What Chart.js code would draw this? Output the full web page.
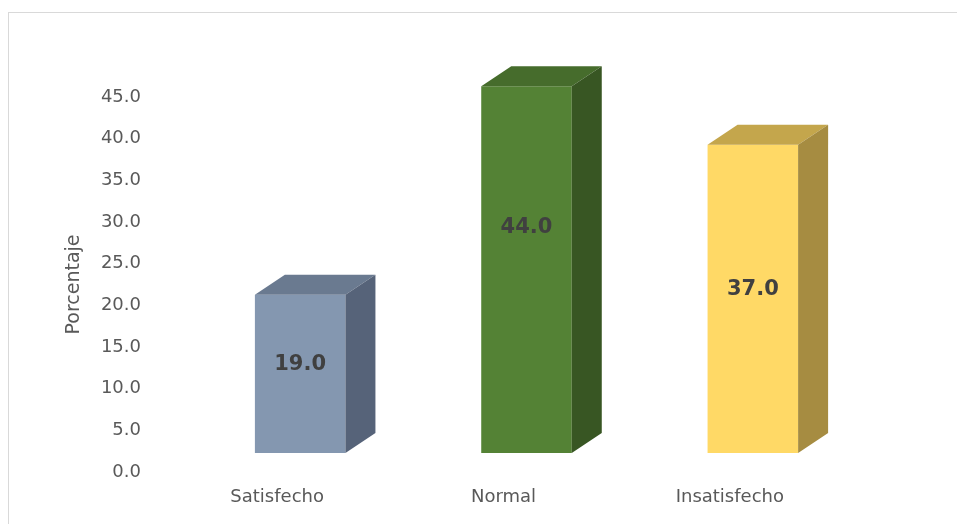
<!DOCTYPE html>
<html lang="es">
<head>
<meta charset="utf-8">
<title>Porcentaje por nivel de satisfacción</title>
<script src="https://cdn.jsdelivr.net/npm/chart.js@4.4.1/dist/chart.umd.min.js"></script>
<style>
  html, body { margin: 0; padding: 0; background: #fff; }
  .wrap { position: relative; width: 957px; height: 524px; overflow: hidden; }
  .frame { position: absolute; left: 8px; top: 12px; width: 1000px; height: 600px; border: 1px solid #d9d9d9; box-sizing: border-box; }
  canvas { position: absolute; left: 0; top: 0; }
</style>
</head>
<body>
<div class="wrap">
  <div class="frame"></div>
  <canvas id="chart" width="957" height="524"></canvas>
</div>
<script>
const categories = ['Satisfecho', 'Normal', 'Insatisfecho'];
const percentages = [19.0, 44.0, 37.0];

const frontColors = ['#8497b0', '#548235', '#ffd966'];
const topColors = ['#6a7a90', '#466c2c', '#c4a64c'];
const sideColors = ['#566379', '#385623', '#a68c41'];
// where each value label sits down the front face (0 = top edge, 1 = floor)
const labelDepth = [0.44, 0.385, 0.47];

const axisMin = 0;
const axisMax = 45;
const axisStep = 5;
// the bar floor sits a bit above the axis zero (3D plot area)
const floorLift = 2.28;
const depthX = 30;
const depthY = 20;

const FONT = "'DejaVu Sans', sans-serif";

// draws the top and side faces of each bar, then the value labels
const boxFaces = {
    id: 'boxFaces',
    afterDatasetsDraw(chart) {
        const ctx = chart.ctx;
        const meta = chart.getDatasetMeta(0);
        meta.data.forEach((bar, i) => {
            const { x, y, base, width } = bar.getProps(['x', 'y', 'base', 'width'], true);
            const left = x - width / 2;
            const right = x + width / 2;

            ctx.save();
            // top face
            ctx.beginPath();
            ctx.moveTo(left, y);
            ctx.lineTo(left + depthX, y - depthY);
            ctx.lineTo(right + depthX, y - depthY);
            ctx.lineTo(right, y);
            ctx.closePath();
            ctx.fillStyle = topColors[i];
            ctx.fill();

            // side face
            ctx.beginPath();
            ctx.moveTo(right, y);
            ctx.lineTo(right + depthX, y - depthY);
            ctx.lineTo(right + depthX, base - depthY);
            ctx.lineTo(right, base);
            ctx.closePath();
            ctx.fillStyle = sideColors[i];
            ctx.fill();

            // value label
            ctx.font = 'bold 21px ' + FONT;
            ctx.fillStyle = '#404040';
            ctx.textAlign = 'center';
            ctx.textBaseline = 'middle';
            ctx.fillText(percentages[i].toFixed(1), x, y + (base - y) * labelDepth[i]);
            ctx.restore();
        });
    }
};

new Chart(document.getElementById('chart'), {
    type: 'bar',
    data: {
        labels: categories,
        datasets: [{
            data: percentages,
            backgroundColor: frontColors,
            borderWidth: 0,
            barPercentage: 0.4,
            categoryPercentage: 1.0,
            yAxisID: 'yBar',
            clip: false
        }]
    },
    options: {
        responsive: false,
        animation: false,
        layout: { padding: { top: 97, right: 91, bottom: 14, left: 0 } },
        plugins: {
            legend: { display: false },
            tooltip: { enabled: false }
        },
        scales: {
            x: {
                grid: { display: false, drawTicks: false },
                border: { display: false },
                ticks: {
                    color: '#595959',
                    font: { family: FONT, size: 18 },
                    padding: 15,
                    labelOffset: -23,
                    maxRotation: 0
                },
                afterFit(scale) {
                    scale.height = 38;
                }
            },
            y: {
                position: 'left',
                min: axisMin,
                max: axisMax,
                grid: { display: false, drawTicks: false },
                border: { display: false },
                ticks: {
                    stepSize: axisStep,
                    color: '#595959',
                    font: { family: FONT, size: 18 },
                    padding: 46,
                    callback: v => Number(v).toFixed(1)
                },
                title: {
                    display: true,
                    text: 'Porcentaje',
                    color: '#595959',
                    font: { family: FONT, size: 19 },
                    padding: { top: 63, bottom: 0 }
                },
                afterFit(scale) {
                    scale.width = 187;
                    // layout padding already leaves room for the end labels
                    scale.paddingTop = 0;
                    scale.paddingBottom = 0;
                }
            },
            yBar: {
                display: false,
                min: axisMin - floorLift,
                max: axisMax - floorLift
            }
        }
    },
    plugins: [boxFaces]
});
</script>
</body>
</html>
